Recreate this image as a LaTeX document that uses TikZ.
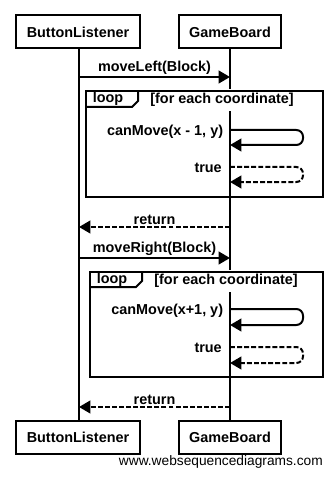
\documentclass[tikz,border=0pt]{standalone}
\usepackage{fontspec}
\setmainfont{Liberation Sans}
\usetikzlibrary{arrows.meta, positioning, calc}

\tikzset{
  actor/.style={draw, line width=1.5pt, minimum height=24.75pt, inner sep=0pt, font=\bfseries\fontsize{10.8}{12}\selectfont},
  lifeline/.style={line width=1.5pt},
  call/.style={line width=1.5pt, -{Triangle[length=8.5pt, width=9.5pt]}},
  reply/.style={call, dash pattern=on 3.7pt off 1.6pt},
  msg/.style={font=\bfseries\fontsize{10.8}{12}\selectfont, inner sep=1pt},
  frame/.style={line width=1.5pt},
}

\begin{document}
\begin{tikzpicture}[x=0.75pt, y=-0.75pt]
\useasboundingbox (0,0) rectangle (333,477);

% participants, top and bottom
\node[actor, minimum width=93pt] (blTop) at (78,32) {ButtonListener};
\node[actor, minimum width=76.5pt] (gbTop) at (230,32) {GameBoard};
\node[actor, minimum width=93pt] (blBot) at (78,437) {ButtonListener};
\node[actor, minimum width=76.5pt] (gbBot) at (230,437) {GameBoard};

\draw[lifeline] ($(blTop.south)+(1,0)$) -- ($(blBot.north)+(1,0)$);
\draw[lifeline] (gbTop) -- (gbBot);

% message end points on the lifelines
\foreach \n/\y in {1/77, 2/227, 3/258, 4/407} {
  \coordinate (bl\n) at (79,\y);
  \coordinate (gb\n) at (230,\y);
}
\coordinate (s1a) at (230,130);
\coordinate (s1b) at (230,145);
\coordinate (t1a) at (230,167);
\coordinate (t1b) at (230,182);
\coordinate (s2a) at (230,309);
\coordinate (s2b) at (230,325);
\coordinate (t2a) at (230,347);
\coordinate (t2b) at (230,363);

% first loop (guard first, so its white patch hides the lifeline only)
\node[msg, fill=white, inner ysep=3pt] at (222,100) {[for each coordinate]};
\draw[frame] (86,91) rectangle (323,197);
\draw[frame] (86,107) -- (132,107) -- (138,101) -- (138,91);
\node[msg] at (108,99) {loop};

% second loop
\node[msg, fill=white, inner ysep=3pt] at (226,281) {[for each coordinate]};
\draw[frame] (90,272) rectangle (323,377);
\draw[frame] (90,287) -- (136,287) -- (142,281) -- (142,272);
\node[msg] at (112,280) {loop};

% calls and replies
\draw[call] (bl1) -- node[msg, above] {moveLeft(Block)} (gb1);
\draw[call, rounded corners=5] (s1a) -- ++(73,0) -- ++(0,15) -- (s1b);
\node[msg, left=4pt of s1a, yshift=-1.5pt] (lbl1) {canMove(x - 1, y)};
\draw[reply, rounded corners=5] (t1a) -- ++(73,0) -- ++(0,15) -- (t1b);
\node[msg, left=5pt of t1a, yshift=-1pt] (lbl2) {true};
\draw[reply] (gb2) -- node[msg, above] {return} (bl2);

\draw[call] (bl3) -- node[msg, above] {moveRight(Block)} (gb3);
\draw[call, rounded corners=5] (s2a) -- ++(73,0) -- ++(0,16) -- (s2b);
\node[msg, left=4pt of s2a, yshift=-1.5pt] (lbl3) {canMove(x+1, y)};
\draw[reply, rounded corners=5] (t2a) -- ++(73,0) -- ++(0,16) -- (t2b);
\node[msg, left=5pt of t2a, yshift=-1pt] (lbl4) {true};
\draw[reply] (gb4) -- node[msg, above] {return} (bl4);

\node[anchor=east, inner sep=0pt, font=\fontsize{10.3}{12}\selectfont] (site) at (323,462) {www.websequencediagrams.com};
\end{tikzpicture}
\end{document}
